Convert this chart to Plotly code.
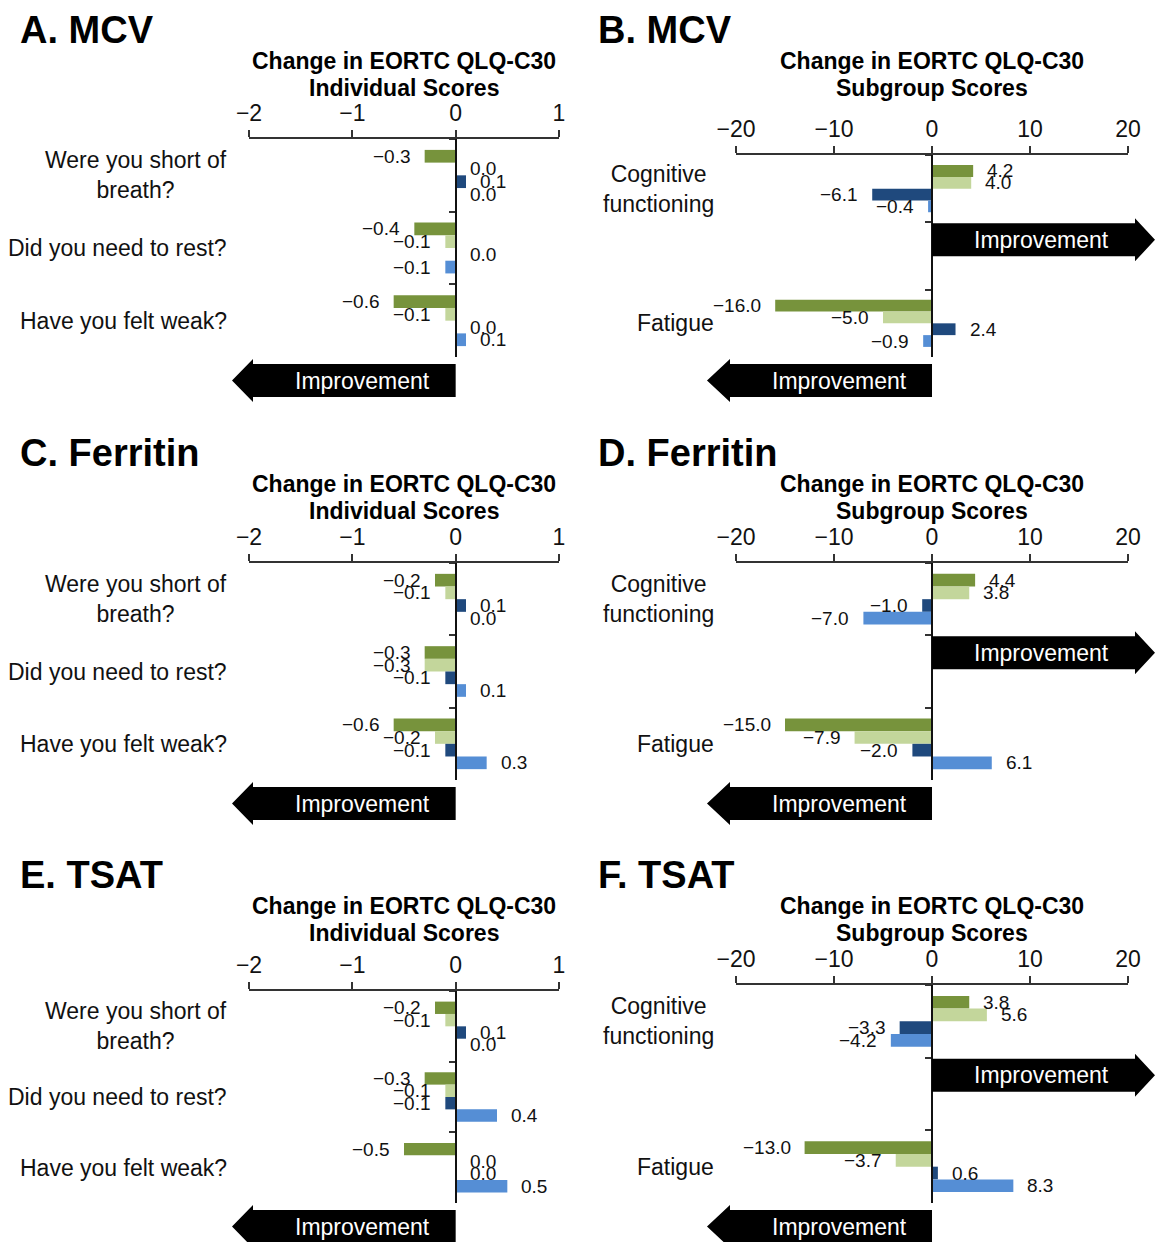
import plotly.graph_objects as go

W, H = 1155, 1242
FONT = "Liberation Sans, Arial, Helvetica, sans-serif"

# ---- data -------------------------------------------------------------
QUESTIONS = ["Were you short of<br>breath?", "Did you need to rest?", "Have you felt weak?"]
SUBSCALES = ["Cognitive<br>functioning", "Fatigue"]

SERIES = ["dark_green", "light_green", "dark_blue", "light_blue"]
COLORS = {"dark_green": "#77933C", "light_green": "#C3D69B",
          "dark_blue": "#1F497D", "light_blue": "#558ED5"}

# MCV – individual items
mcv_item_dark_green = [-0.3, -0.4, -0.6]
mcv_item_light_green = [0.0, -0.1, -0.1]
mcv_item_dark_blue = [0.1, 0.0, 0.0]
mcv_item_light_blue = [0.0, -0.1, 0.1]

# MCV – subgroup scores
mcv_sub_dark_green = [4.2, -16.0]
mcv_sub_light_green = [4.0, -5.0]
mcv_sub_dark_blue = [-6.1, 2.4]
mcv_sub_light_blue = [-0.4, -0.9]

# Ferritin – individual items
fer_item_dark_green = [-0.2, -0.3, -0.6]
fer_item_light_green = [-0.1, -0.3, -0.2]
fer_item_dark_blue = [0.1, -0.1, -0.1]
fer_item_light_blue = [0.0, 0.1, 0.3]

# Ferritin – subgroup scores
fer_sub_dark_green = [4.4, -15.0]
fer_sub_light_green = [3.8, -7.9]
fer_sub_dark_blue = [-1.0, -2.0]
fer_sub_light_blue = [-7.0, 6.1]

# TSAT – individual items
tsat_item_dark_green = [-0.2, -0.3, -0.5]
tsat_item_light_green = [-0.1, -0.1, 0.0]
tsat_item_dark_blue = [0.1, -0.1, 0.0]
tsat_item_light_blue = [0.0, 0.4, 0.5]

# TSAT – subgroup scores
tsat_sub_dark_green = [3.8, -13.0]
tsat_sub_light_green = [5.6, -3.7]
tsat_sub_dark_blue = [-3.3, 0.6]
tsat_sub_light_blue = [-4.2, 8.3]

ITEM_TICKS = [-2, -1, 0, 1]
SUB_TICKS = [-20, -10, 0, 10, 20]

# ---- layout (pixel geometry of each panel) ----------------------------
LEFT_X = (249, 559)
RIGHT_X = (736, 1128)

panels = [
    dict(tag="A. MCV", kind="item", col=0, ypx=(139, 357), top=0,
         vals=[mcv_item_dark_green, mcv_item_light_green, mcv_item_dark_blue, mcv_item_light_blue]),
    dict(tag="B. MCV", kind="sub", col=1, ypx=(155, 357), top=0,
         vals=[mcv_sub_dark_green, mcv_sub_light_green, mcv_sub_dark_blue, mcv_sub_light_blue]),
    dict(tag="C. Ferritin", kind="item", col=0, ypx=(563, 780), top=423,
         vals=[fer_item_dark_green, fer_item_light_green, fer_item_dark_blue, fer_item_light_blue]),
    dict(tag="D. Ferritin", kind="sub", col=1, ypx=(563, 780), top=423,
         vals=[fer_sub_dark_green, fer_sub_light_green, fer_sub_dark_blue, fer_sub_light_blue]),
    dict(tag="E. TSAT", kind="item", col=0, ypx=(991, 1203), top=845,
         vals=[tsat_item_dark_green, tsat_item_light_green, tsat_item_dark_blue, tsat_item_light_blue]),
    dict(tag="F. TSAT", kind="sub", col=1, ypx=(985, 1203), top=845,
         vals=[tsat_sub_dark_green, tsat_sub_light_green, tsat_sub_dark_blue, tsat_sub_light_blue]),
]

BARGAP = 0.3
AXIS_COLOR = "#333333"


def px_x(x):
    return x / W


def px_y(y):
    return 1 - y / H


def fmt(v):
    s = f"{abs(v):.1f}"
    return ("\u2212" + s) if v < 0 else s


fig = go.Figure()
layout = {}
annotations = []
shapes = []

for i, p in enumerate(panels):
    n = i + 1
    xa = "x" if n == 1 else f"x{n}"
    ya = "y" if n == 1 else f"y{n}"
    xkey = "xaxis" if n == 1 else f"xaxis{n}"
    ykey = "yaxis" if n == 1 else f"yaxis{n}"

    xpx = LEFT_X if p["col"] == 0 else RIGHT_X
    if p["kind"] == "item":
        cats = QUESTIONS
        xr = [-2, 1]
        ticks = ITEM_TICKS
        subtitle = "Individual Scores"
    else:
        # empty middle slot carries the "Improvement" arrow
        cats = [SUBSCALES[0], " ", SUBSCALES[1]]
        xr = [-20, 20]
        ticks = SUB_TICKS
        subtitle = "Subgroup Scores"

    # bars
    for k, s in enumerate(SERIES):
        v = p["vals"][k]
        xs = list(v) if p["kind"] == "item" else [v[0], None, v[1]]
        fig.add_trace(go.Bar(
            x=xs, y=cats, orientation="h", name=s,
            marker=dict(color=COLORS[s], line=dict(width=0)),
            xaxis=xa, yaxis=ya, showlegend=False, offsetgroup=s,
            hoverinfo="skip",
        ))
        # value labels at the bar ends
        width = (1 - BARGAP) / len(SERIES)
        off = -(1 - BARGAP) / 2 + width * (k + 0.5)
        for j, val in enumerate(xs):
            if val is None:
                continue
            neg = val < 0
            annotations.append(dict(
                x=val, y=j + off, xref=xa, yref=ya, text=fmt(val),
                showarrow=False, xanchor="right" if neg else "left",
                xshift=-12 if neg else 12,
                font=dict(family=FONT, size=19, color="#111111"),
            ))

    zero_px = xpx[0] + (0 - xr[0]) / (xr[1] - xr[0]) * (xpx[1] - xpx[0])

    layout[xkey] = dict(
        domain=[px_x(xpx[0]), px_x(xpx[1])], range=xr, side="top",
        anchor=ya, tickvals=ticks, showgrid=False, zeroline=False,
        showline=True, linecolor=AXIS_COLOR, linewidth=1.5,
        ticks="outside", ticklen=7, tickwidth=1.5, tickcolor=AXIS_COLOR,
        tickfont=dict(family=FONT, size=23, color="#111111"),
        fixedrange=True, automargin=False,
    )
    layout[ykey] = dict(
        domain=[px_y(p["ypx"][1]), px_y(p["ypx"][0])], type="category",
        categoryorder="array", categoryarray=cats, autorange="reversed",
        anchor="free", position=px_x(zero_px), showgrid=False, zeroline=False,
        showline=True, linecolor="#111111", linewidth=1.5,
        ticks="outside", tickson="boundaries", ticklen=6, tickwidth=1.5,
        tickcolor=AXIS_COLOR, showticklabels=False, fixedrange=True,
        automargin=False,
    )

    # category labels, centred lines, right-aligned to the plot edge
    for j, c in enumerate(cats):
        if c.strip() == "":
            continue
        annotations.append(dict(
            x=0, y=j, xref=f"{xa} domain", yref=ya, text=c, showarrow=False,
            xanchor="right", xshift=-20, align="center",
            font=dict(family=FONT, size=23, color="#111111"),
        ))

    # panel tag and axis title
    tag_x = 18 if p["col"] == 0 else 596
    annotations.append(dict(
        x=px_x(tag_x), y=px_y(30 + p["top"]), xref="paper", yref="paper",
        text=f"<b>{p['tag']}</b>", showarrow=False, xanchor="left", yanchor="middle",
        font=dict(family=FONT, size=38, color="#000000"),
    ))
    cx = px_x((xpx[0] + xpx[1]) / 2)
    for line, yy in (("Change in EORTC QLQ-C30", 61), (subtitle, 88)):
        annotations.append(dict(
            x=cx, y=px_y(yy + p["top"]), xref="paper", yref="paper",
            text=f"<b>{line}</b>", showarrow=False, xanchor="center", yanchor="middle",
            font=dict(family=FONT, size=23, color="#000000"),
        ))

    # "Improvement" arrows
    def arrow(x_body_end, x_head_base, x_tip, y_top, label):
        y_bot = y_top + 33
        y_mid = (y_top + y_bot) / 2
        pts = [(x_tip, y_mid), (x_head_base, y_top - 5), (x_head_base, y_top),
               (x_body_end, y_top), (x_body_end, y_bot), (x_head_base, y_bot),
               (x_head_base, y_bot + 5)]
        path = "M " + " L ".join(f"{px_x(a):.5f},{px_y(b):.5f}" for a, b in pts) + " Z"
        shapes.append(dict(type="path", path=path, xref="paper", yref="paper",
                           fillcolor="#000000", line=dict(width=0), layer="above"))
        annotations.append(dict(
            x=px_x((x_body_end + x_head_base) / 2 + 8), y=px_y(y_mid),
            xref="paper", yref="paper", text=label, showarrow=False,
            xanchor="center", yanchor="middle",
            font=dict(family=FONT, size=23, color="#ffffff"),
        ))

    y_bottom = p["ypx"][1]
    if p["col"] == 0:
        arrow(zero_px, 253, 232, y_bottom + 7, "Improvement")
    else:
        arrow(zero_px, 730, 707, y_bottom + 7, "Improvement")
        band_top = p["ypx"][0] + (p["ypx"][1] - p["ypx"][0]) / 3
        arrow(zero_px, 1135, 1155, band_top + 1, "Improvement")

fig.update_layout(
    width=W, height=H,
    margin=dict(l=0, r=0, t=0, b=0, pad=0, autoexpand=False),
    paper_bgcolor="white", plot_bgcolor="rgba(0,0,0,0)",
    barmode="group", bargap=BARGAP, bargroupgap=0,
    font=dict(family=FONT, color="#111111"),
    annotations=annotations, shapes=shapes, **layout,
)

fig.write_html("out.html")
